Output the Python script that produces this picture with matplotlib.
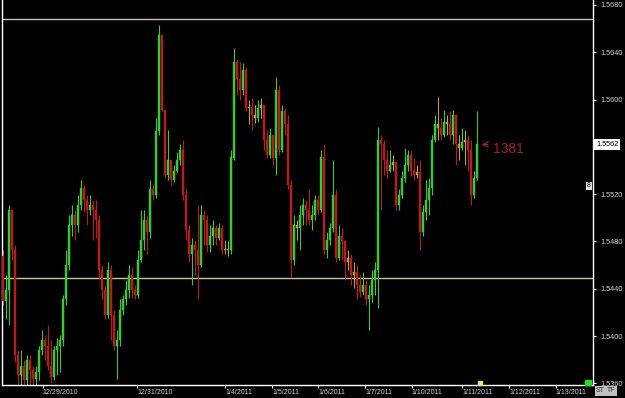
"""GBP/USD style candlestick screenshot, 12/28/2010 - 1/11/2011."""
import matplotlib.pyplot as plt
from matplotlib.transforms import blended_transform_factory
from matplotlib.patches import Rectangle
import numpy as np

plt.rcParams["font.family"] = ["Liberation Sans", "DejaVu Sans"]

# candles (open of each bar = previous close)
open0 = 1.5468
close = [1.5430, 1.5439, 1.5507, 1.5473, 1.5384, 1.5367, 1.5375, 1.5363, 1.5380, 1.5371,
         1.5364, 1.5370, 1.5388, 1.5397, 1.5392, 1.5375, 1.5365, 1.5388, 1.5392, 1.5397,
         1.5431, 1.5460, 1.5494, 1.5502, 1.5494, 1.5511, 1.5525, 1.5515, 1.5507, 1.5511,
         1.5507, 1.5498, 1.5456, 1.5439, 1.5418, 1.5456, 1.5418, 1.5392, 1.5397, 1.5422,
         1.5431, 1.5439, 1.5452, 1.5439, 1.5435, 1.5464, 1.5481, 1.5498, 1.5488, 1.5524,
         1.5519, 1.5573, 1.5655, 1.5591, 1.5536, 1.5549, 1.5532, 1.5540, 1.5549, 1.5557,
         1.5519, 1.5490, 1.5469, 1.5477, 1.5473, 1.5460, 1.5502, 1.5498, 1.5477, 1.5485,
         1.5491, 1.5483, 1.5491, 1.5473, 1.5474, 1.5473, 1.5551, 1.5632, 1.5617, 1.5608,
         1.5625, 1.5593, 1.5594, 1.5587, 1.5584, 1.5593, 1.5595, 1.5566, 1.5553, 1.5570,
         1.5551, 1.5608, 1.5557, 1.5590, 1.5579, 1.5528, 1.5464, 1.5494, 1.5491, 1.5502,
         1.5511, 1.5507, 1.5498, 1.5502, 1.5515, 1.5507, 1.5551, 1.5473, 1.5481, 1.5491,
         1.5519, 1.5466, 1.5485, 1.5480, 1.5463, 1.5466, 1.5452, 1.5454, 1.5443, 1.5437,
         1.5443, 1.5431, 1.5435, 1.5447, 1.5456, 1.5566, 1.5562, 1.5549, 1.5540, 1.5545,
         1.5547, 1.5511, 1.5519, 1.5534, 1.5545, 1.5553, 1.5540, 1.5536, 1.5539, 1.5488,
         1.5505, 1.5515, 1.5525, 1.5566, 1.5579, 1.5576, 1.5570, 1.5581, 1.5579, 1.5570,
         1.5587, 1.5562, 1.5559, 1.5564, 1.5566, 1.5557, 1.5519, 1.5534, 1.5562]
high = [1.5473, 1.5452, 1.5511, 1.5507, 1.5477, 1.5388, 1.5388, 1.5380, 1.5384, 1.5384,
        1.5375, 1.5375, 1.5392, 1.5405, 1.5401, 1.5409, 1.5397, 1.5392, 1.5398, 1.5401,
        1.5435, 1.5473, 1.5502, 1.5511, 1.5507, 1.5519, 1.5532, 1.5528, 1.5519, 1.5519,
        1.5515, 1.5515, 1.5502, 1.5460, 1.5443, 1.5463, 1.5460, 1.5422, 1.5405, 1.5431,
        1.5435, 1.5447, 1.5460, 1.5458, 1.5443, 1.5473, 1.5507, 1.5507, 1.5502, 1.5532,
        1.5528, 1.5584, 1.5663, 1.5650, 1.5583, 1.5574, 1.5545, 1.5545, 1.5556, 1.5562,
        1.5566, 1.5524, 1.5494, 1.5483, 1.5481, 1.5511, 1.5511, 1.5507, 1.5502, 1.5494,
        1.5498, 1.5494, 1.5496, 1.5494, 1.5481, 1.5480, 1.5557, 1.5644, 1.5634, 1.5632,
        1.5631, 1.5627, 1.5600, 1.5601, 1.5595, 1.5600, 1.5601, 1.5595, 1.5574, 1.5576,
        1.5570, 1.5619, 1.5612, 1.5595, 1.5593, 1.5587, 1.5532, 1.5502, 1.5498, 1.5511,
        1.5517, 1.5515, 1.5524, 1.5511, 1.5519, 1.5519, 1.5557, 1.5562, 1.5488, 1.5496,
        1.5549, 1.5524, 1.5494, 1.5491, 1.5481, 1.5473, 1.5469, 1.5463, 1.5460, 1.5452,
        1.5454, 1.5447, 1.5443, 1.5456, 1.5463, 1.5577, 1.5570, 1.5566, 1.5557, 1.5557,
        1.5553, 1.5545, 1.5524, 1.5540, 1.5559, 1.5557, 1.5557, 1.5551, 1.5545, 1.5549,
        1.5511, 1.5532, 1.5534, 1.5570, 1.5587, 1.5602, 1.5584, 1.5591, 1.5587, 1.5590,
        1.5591, 1.5570, 1.5570, 1.5576, 1.5574, 1.5570, 1.5566, 1.5540, 1.5590]
low = [1.5426, 1.5414, 1.5409, 1.5464, 1.5378, 1.5359, 1.5354, 1.5353, 1.5359, 1.5359,
       1.5354, 1.5353, 1.5363, 1.5384, 1.5380, 1.5371, 1.5360, 1.5363, 1.5367, 1.5370,
       1.5392, 1.5426, 1.5456, 1.5485, 1.5481, 1.5488, 1.5507, 1.5505, 1.5494, 1.5502,
       1.5481, 1.5483, 1.5449, 1.5431, 1.5414, 1.5415, 1.5397, 1.5388, 1.5364, 1.5392,
       1.5418, 1.5426, 1.5432, 1.5432, 1.5431, 1.5432, 1.5463, 1.5473, 1.5469, 1.5483,
       1.5515, 1.5517, 1.5570, 1.5590, 1.5534, 1.5532, 1.5528, 1.5530, 1.5539, 1.5545,
       1.5515, 1.5481, 1.5463, 1.5443, 1.5452, 1.5431, 1.5458, 1.5477, 1.5471, 1.5471,
       1.5477, 1.5477, 1.5481, 1.5469, 1.5469, 1.5468, 1.5469, 1.5549, 1.5604, 1.5600,
       1.5604, 1.5590, 1.5579, 1.5574, 1.5580, 1.5581, 1.5584, 1.5557, 1.5551, 1.5551,
       1.5545, 1.5536, 1.5553, 1.5556, 1.5570, 1.5524, 1.5450, 1.5460, 1.5481, 1.5473,
       1.5494, 1.5494, 1.5494, 1.5490, 1.5498, 1.5502, 1.5505, 1.5469, 1.5466, 1.5477,
       1.5488, 1.5463, 1.5464, 1.5464, 1.5447, 1.5456, 1.5443, 1.5441, 1.5431, 1.5433,
       1.5435, 1.5426, 1.5405, 1.5429, 1.5435, 1.5424, 1.5507, 1.5536, 1.5534, 1.5539,
       1.5540, 1.5507, 1.5507, 1.5517, 1.5530, 1.5540, 1.5535, 1.5532, 1.5534, 1.5473,
       1.5485, 1.5498, 1.5502, 1.5519, 1.5564, 1.5566, 1.5566, 1.5568, 1.5570, 1.5566,
       1.5562, 1.5545, 1.5549, 1.5557, 1.5545, 1.5540, 1.5511, 1.5517, 1.5532]

# axis labels (1.5560 sits under the current-price box, so it is not shown)
price_ticks = [1.5360, 1.5400, 1.5440, 1.5480, 1.5520, 1.5600, 1.5640, 1.5680]
date_labels = ["12/29/2010", "12/31/2010", "1/4/2011", "1/5/2011", "1/6/2011",
               "1/7/2011", "1/10/2011", "1/11/2011", "1/12/2011", "1/13/2011"]
date_pos = [13.3, 44.7, 74.0, 89.7, 105.0, 120.7, 136.3, 153.0, 168.7, 184.3]
h_levels = [1.5668, 1.5449]
last_price = 1.5562

GREEN = "#38c838"
RED = "#b81c1c"
OLIVE = "#b4a23c"
AXIS_TXT = "#d0d0d0"

o = np.array([open0] + close[:-1])
c = np.array(close)
x = np.arange(len(c))
colors = [OLIVE if abs(ci - oi) < 0.00035 else (GREEN if ci > oi else RED)
          for oi, ci in zip(o, c)]

fig = plt.figure(figsize=(6.25, 3.98), dpi=100, facecolor="black")
ax = fig.add_axes([2 / 625, 13 / 398, 591 / 625, 385 / 398])
ax.set_facecolor("black")

ax.vlines(x, low, high, colors=colors, lw=0.8, zorder=2)
body_h = np.maximum(np.abs(c - o), 0.00008)
ax.bar(x, body_h, bottom=np.minimum(o, c), width=0.7, color=colors,
       edgecolor=colors, lw=0.3, zorder=3)

for lv in h_levels:
    ax.axhline(lv, color="#cfc29a", lw=1.0, zorder=1)

ax.set_xlim(-1 / 3, 196.67)
ax.set_ylim(1.53586, 1.56842)

for side in ("left", "right", "bottom"):
    ax.spines[side].set_color("white")
    ax.spines[side].set_linewidth(1.0)
ax.spines["top"].set_visible(False)

ax.yaxis.tick_right()
ax.set_yticks(price_ticks, [f"{p:.4f}" for p in price_ticks])
ax.tick_params(axis="y", colors="white", labelcolor=AXIS_TXT, labelsize=5.3,
               length=2, width=0.8, pad=3)
ax.set_xticks(date_pos, date_labels)
ax.tick_params(axis="x", colors="white", labelcolor=AXIS_TXT, labelsize=5,
               length=2, width=0.8, pad=1)
for lab in ax.get_xticklabels():
    lab.set_ha("left")

# current price box on the scale
trans = blended_transform_factory(ax.transAxes, ax.transData)
ax.text(1.005, last_price, f"{last_price:.4f}", transform=trans, ha="left",
        va="center", fontsize=5.3, color="black", zorder=10, clip_on=False,
        bbox=dict(fc="white", ec="none", pad=1.2))
ax.text(0.9935, 1.5527, "8", transform=trans, ha="center", va="center",
        fontsize=5, color="black", zorder=10,
        bbox=dict(fc="#e0e0e0", ec="none", pad=0.6))

# bar count note with arrow
ax.annotate("", xy=(x[-1] + 0.6, last_price), xytext=(x[-1] + 4.5, last_price),
            arrowprops=dict(arrowstyle="->", color=RED, lw=0.8), zorder=6)
ax.text(x[-1] + 5.5, 1.5558, "1381", color="#a81c1c", fontsize=10,
        ha="left", va="center", zorder=6)

# small markers
ax.scatter([x[-1] + 1], [1.5360], marker="s", s=5, color="#f0e080",
           clip_on=False, zorder=7)
ax.add_patch(Rectangle((0.9865, 0.0), 0.0105, 0.014, transform=ax.transAxes,
                       color="#22e022", clip_on=False, zorder=7))
fig.text(596 / 625, 1 - 391 / 398, "ST", fontsize=5, color="#303030",
         ha="left", va="center", bbox=dict(fc="#c0c0c0", ec="none", pad=0.8))
fig.text(607 / 625, 1 - 391 / 398, "TF", fontsize=5, color="#303030",
         ha="left", va="center", bbox=dict(fc="#c0c0c0", ec="none", pad=0.8))

fig.savefig("out.png", dpi=100, facecolor="black")
